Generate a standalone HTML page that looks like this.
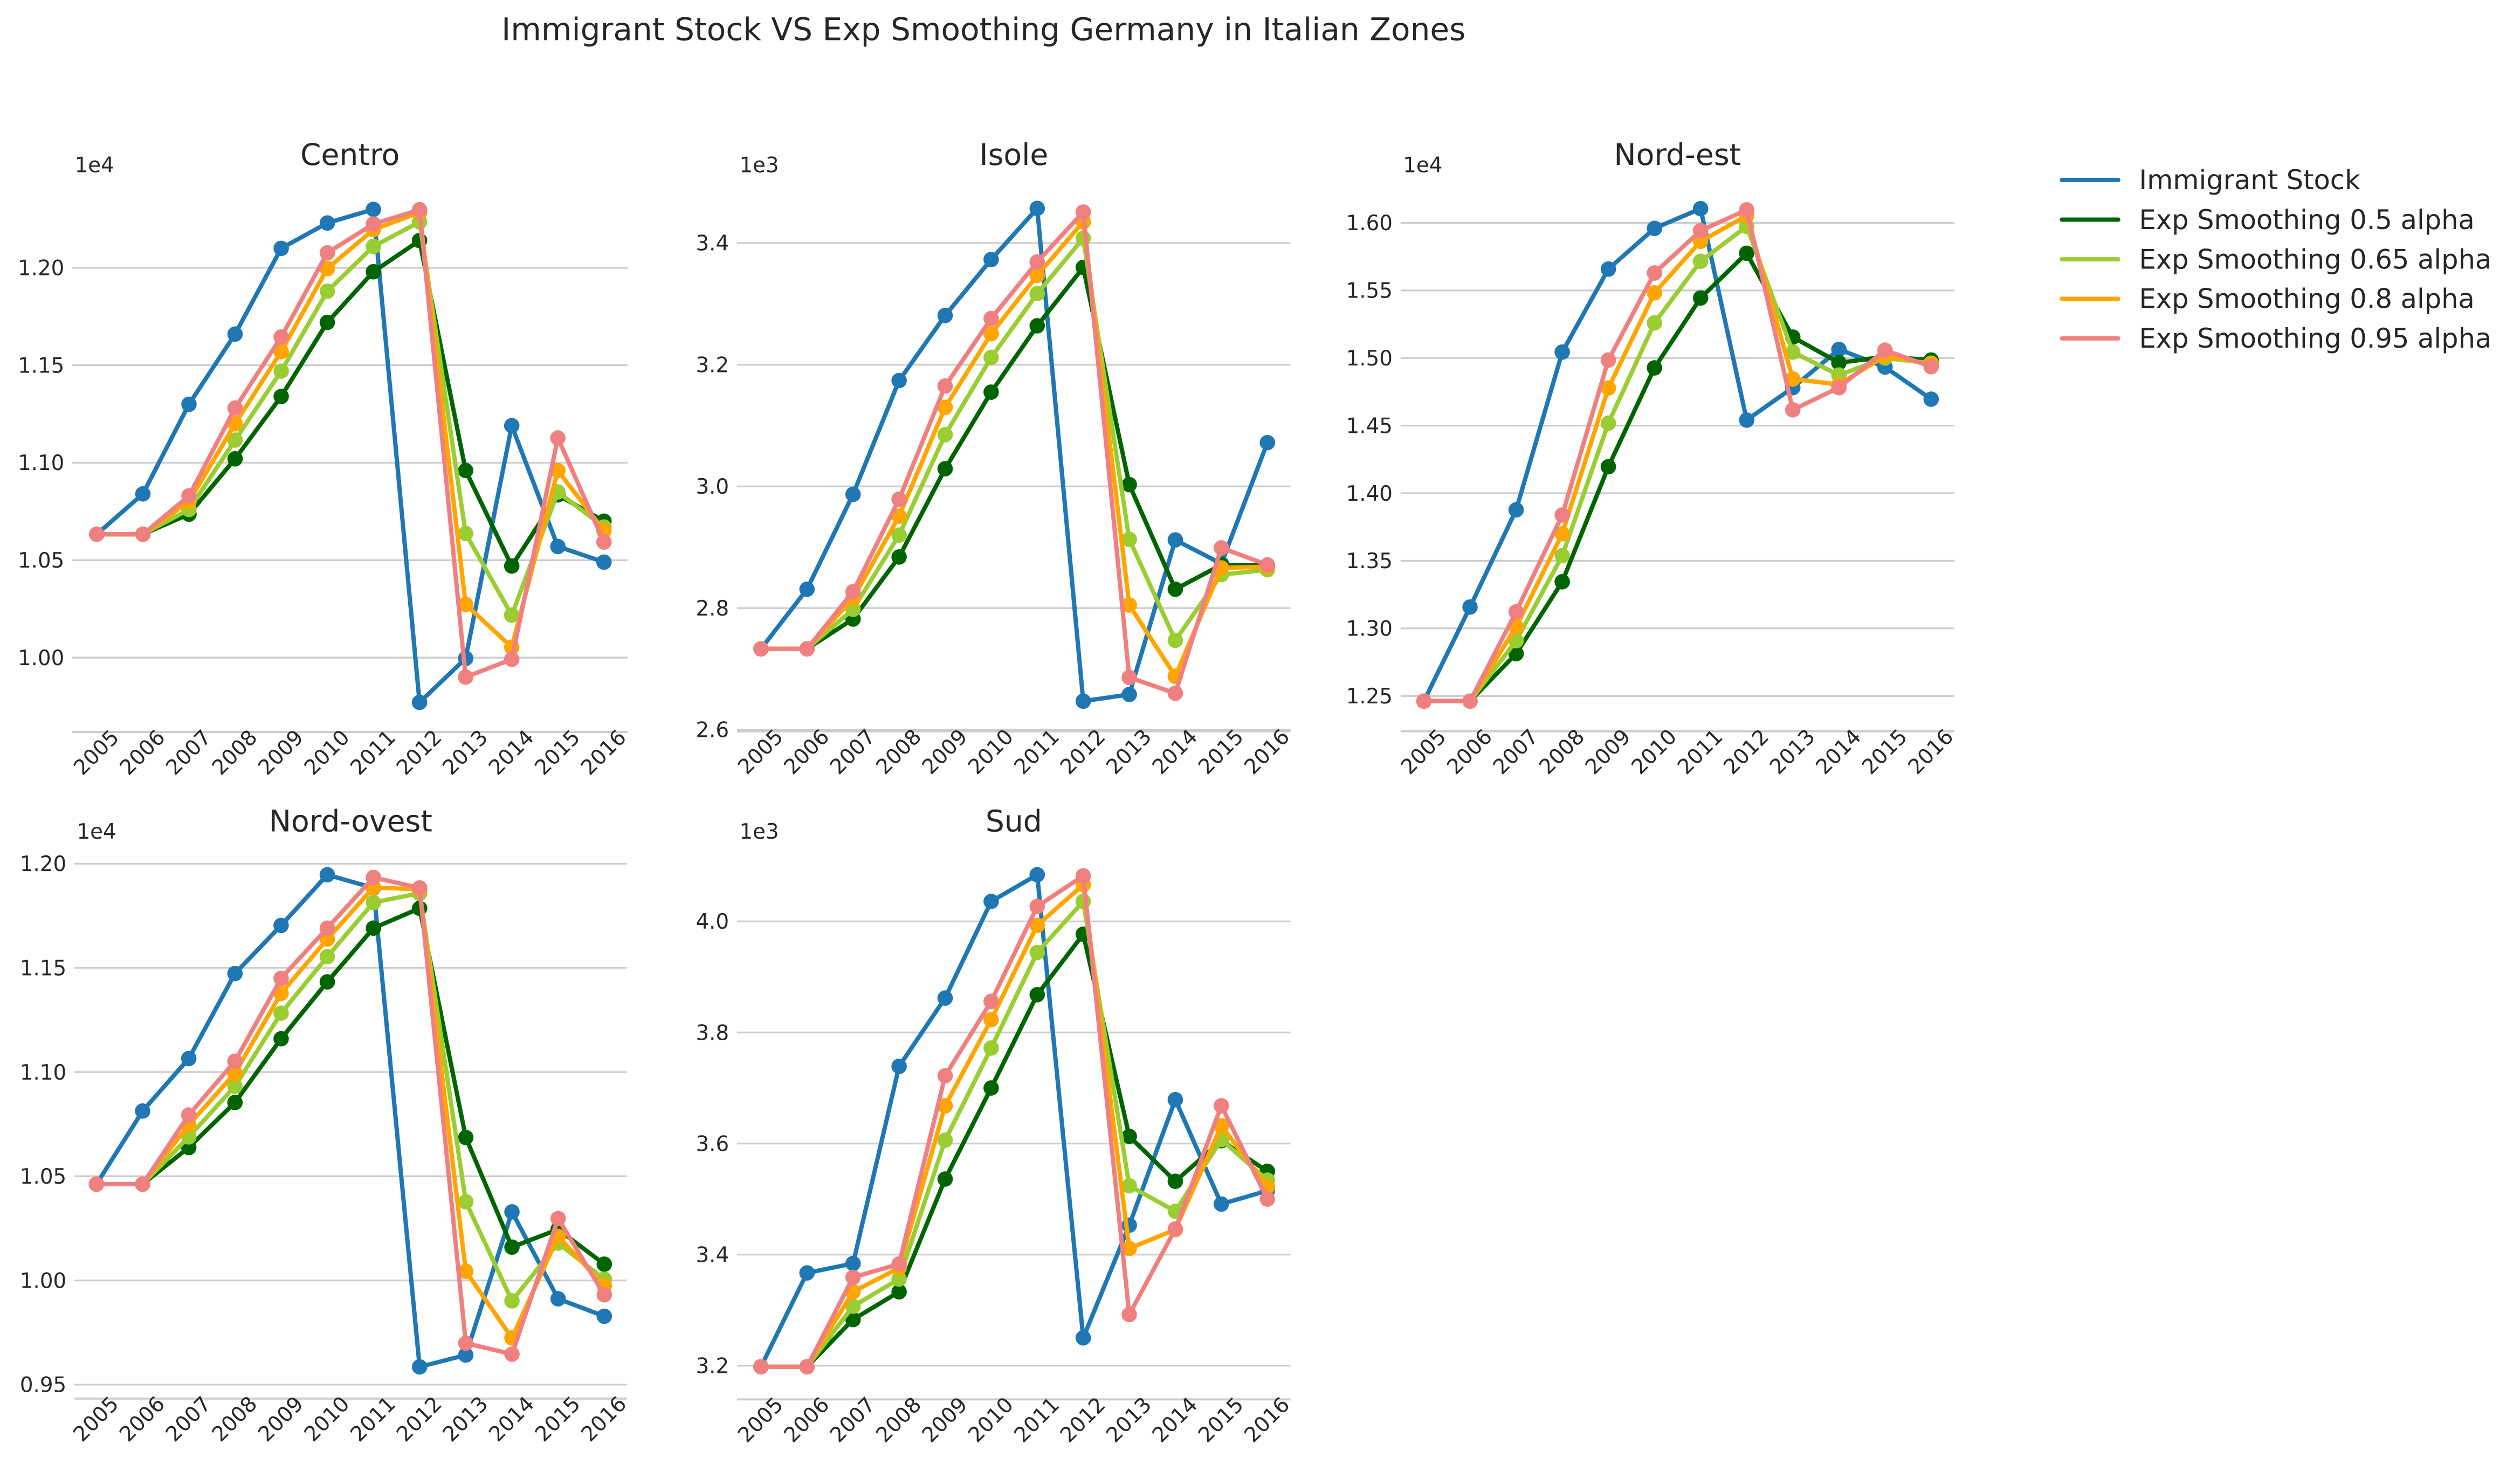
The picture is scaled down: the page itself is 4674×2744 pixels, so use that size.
<!DOCTYPE html>
<html><head><meta charset="utf-8"><style>
html,body{margin:0;padding:0;background:#fff;}
svg{display:block;font-family:"DejaVu Sans","Liberation Sans",sans-serif;}
</style></head><body>
<svg id="chart" xmlns="http://www.w3.org/2000/svg" width="4674" height="2744" viewBox="0 0 1568 920.55">
<rect x="0" y="0" width="1568" height="921" fill="#fff"/>
<text x="612" y="25" text-anchor="middle" font-size="19.5" fill="#262626">Immigrant Stock VS Exp Smoothing Germany in Italian Zones</text>
<g id="legend"></g>
</svg>
<script>
const years = [2005,2006,2007,2008,2009,2010,2011,2012,2013,2014,2015,2016];
const seriesNames = ["Immigrant Stock","Exp Smoothing 0.5 alpha","Exp Smoothing 0.65 alpha","Exp Smoothing 0.8 alpha","Exp Smoothing 0.95 alpha"];
const zoneNames = ["Centro","Isole","Nord-est","Nord-ovest","Sud"];
const zoneExponents = ["1e4","1e3","1e4","1e4","1e3"];

const centroStock = [1.0633,1.084,1.130,1.166,1.210,1.223,1.230,0.977,0.9996,1.119,1.057,1.049];
const centroA050 = [1.0633,1.0633,1.0736,1.102,1.134,1.172,1.198,1.214,1.096,1.047,1.0835,1.070];
const centroA065 = [1.0633,1.0633,1.076,1.1116,1.147,1.188,1.211,1.2236,1.0637,1.0218,1.085,1.067];
const centroA080 = [1.0633,1.0633,1.080,1.120,1.157,1.1996,1.2196,1.2284,1.0273,1.0053,1.096,1.065];
const centroA095 = [1.0633,1.0633,1.083,1.128,1.1645,1.2077,1.2225,1.2298,0.990,0.9991,1.1127,1.0593];

const isoleStock = [2.733,2.831,2.987,3.174,3.281,3.373,3.457,2.647,2.658,2.912,2.873,3.072];
const isoleA050 = [2.733,2.733,2.782,2.884,3.029,3.155,3.264,3.360,3.003,2.831,2.871,2.870];
const isoleA065 = [2.733,2.733,2.798,2.920,3.085,3.212,3.317,3.408,2.913,2.747,2.855,2.863];
const isoleA080 = [2.733,2.733,2.816,2.951,3.130,3.251,3.347,3.435,2.805,2.688,2.866,2.868];
const isoleA095 = [2.733,2.733,2.827,2.979,3.165,3.276,3.369,3.451,2.686,2.660,2.899,2.871];

const nordEstStock = [1.2462,1.3158,1.3877,1.5044,1.5658,1.5959,1.6105,1.4541,1.4781,1.5064,1.4933,1.4696];
const nordEstA050 = [1.2462,1.2462,1.2813,1.3345,1.4196,1.4927,1.5444,1.5775,1.5155,1.4965,1.501,1.4985];
const nordEstA065 = [1.2462,1.2462,1.2909,1.3538,1.4518,1.526,1.5716,1.5974,1.5044,1.4874,1.500,1.4962];
const nordEstA080 = [1.2462,1.2462,1.3012,1.370,1.4778,1.5482,1.5863,1.6053,1.4845,1.4804,1.5015,1.4956];
const nordEstA095 = [1.2462,1.2462,1.3123,1.3839,1.4985,1.5629,1.5942,1.6096,1.4617,1.4781,1.5058,1.4936];

const nordOvestStock = [1.0462,1.0813,1.1065,1.1473,1.1704,1.1947,1.1884,0.9585,0.9642,1.0329,0.9912,0.9828];
const nordOvestA050 = [1.0462,1.0462,1.0638,1.0854,1.116,1.1433,1.1691,1.1786,1.0686,1.016,1.0245,1.0078];
const nordOvestA065 = [1.0462,1.0462,1.0689,1.0932,1.1283,1.1554,1.1814,1.1858,1.0378,0.9902,1.0179,1.0006];
const nordOvestA080 = [1.0462,1.0462,1.0746,1.0995,1.1378,1.1638,1.1886,1.1877,1.0044,0.9724,1.0211,0.9974];
const nordOvestA095 = [1.0462,1.0462,1.0794,1.1052,1.145,1.1691,1.1934,1.1884,0.9699,0.9646,1.0297,0.9931];

const sudStock = [3.198,3.367,3.384,3.739,3.862,4.036,4.084,3.250,3.453,3.679,3.491,3.515];
const sudA050 = [3.198,3.198,3.283,3.333,3.536,3.700,3.868,3.977,3.613,3.532,3.605,3.550];
const sudA065 = [3.198,3.198,3.307,3.356,3.606,3.772,3.944,4.036,3.524,3.478,3.607,3.534];
const sudA080 = [3.198,3.198,3.333,3.376,3.668,3.823,3.993,4.066,3.411,3.445,3.632,3.522];
const sudA095 = [3.198,3.198,3.359,3.383,3.722,3.856,4.027,4.082,3.292,3.446,3.668,3.500];

const centroTicks = [1.00,1.05,1.10,1.15,1.20];
const centroTickLabels = ["1.00","1.05","1.10","1.15","1.20"];
const isoleTicks = [2.6,2.8,3.0,3.2,3.4];
const isoleTickLabels = ["2.6","2.8","3.0","3.2","3.4"];
const nordEstTicks = [1.25,1.30,1.35,1.40,1.45,1.50,1.55,1.60];
const nordEstTickLabels = ["1.25","1.30","1.35","1.40","1.45","1.50","1.55","1.60"];
const nordOvestTicks = [0.95,1.00,1.05,1.10,1.15,1.20];
const nordOvestTickLabels = ["0.95","1.00","1.05","1.10","1.15","1.20"];
const sudTicks = [3.2,3.4,3.6,3.8,4.0];
const sudTickLabels = ["3.2","3.4","3.6","3.8","4.0"];

const NS = "http://www.w3.org/2000/svg";
const svg = document.getElementById('chart');
const colors = ["#1f77b4","#006400","#9acd32","#ffa500","#f08080"];

const layouts = [
  {left:45,right:390.5,x0:60.2,x1:375.8,bottom:455.6,v0:1.00,p0:409.3,v1:1.20,p1:166.7,titleY:102.7},
  {left:458.6,right:803,x0:473.5,x1:788.6,bottom:455.2,v0:2.6,p0:454.2,v1:3.4,p1:151.3,titleY:102.7},
  {left:871.5,right:1216,x0:886,x1:1201.6,bottom:455.2,v0:1.25,p0:433.2,v1:1.60,p1:138.7,titleY:102.7},
  {left:46.3,right:390,x0:60,x1:376,bottom:870.5,v0:0.95,p0:861.8,v1:1.20,p1:537.6,titleY:517.5},
  {left:458.6,right:803,x0:473.5,x1:788.6,bottom:871,v0:3.2,p0:850,v1:4.0,p1:573.5,titleY:517.5}
];
const zoneData = [
  [centroStock,centroA050,centroA065,centroA080,centroA095],
  [isoleStock,isoleA050,isoleA065,isoleA080,isoleA095],
  [nordEstStock,nordEstA050,nordEstA065,nordEstA080,nordEstA095],
  [nordOvestStock,nordOvestA050,nordOvestA065,nordOvestA080,nordOvestA095],
  [sudStock,sudA050,sudA065,sudA080,sudA095]
];
const zoneTicks = [centroTicks,isoleTicks,nordEstTicks,nordOvestTicks,sudTicks];
const zoneTickLabels = [centroTickLabels,isoleTickLabels,nordEstTickLabels,nordOvestTickLabels,sudTickLabels];

function mk(tag, attrs, parent){
  const e = document.createElementNS(NS, tag);
  for (const k in attrs) e.setAttribute(k, attrs[k]);
  parent.appendChild(e);
  return e;
}

zoneNames.forEach((zn, zi) => {
  const L = layouts[zi];
  const xScale = i => L.x0 + (L.x1 - L.x0) * (i / (years.length - 1));
  const yScale = v => L.p0 + (v - L.v0) * (L.p1 - L.p0) / (L.v1 - L.v0);
  const g = mk('g', {}, svg);
  
  

  zoneTicks[zi].forEach((t, ti) => {
    const y = yScale(t);
    const gl = mk('line', {x1:L.left, x2:L.right, y1:y, y2:y, stroke:'#cccccc', 'stroke-width':1.1}, g);
    
    
    const tl = mk('text', {x:L.left - 5, y:y + 4.6, 'text-anchor':'end', 'font-size':13, fill:'#262626'}, g);
    
    
    tl.textContent = zoneTickLabels[zi][ti];
  });
  const ax = mk('line', {x1:L.left, x2:L.right, y1:L.bottom, y2:L.bottom, stroke:'#cccccc', 'stroke-width':1.3}, g);
  
  

  years.forEach((yr, i) => {
    const x = xScale(i);
    const ty = L.bottom + 17;
    const tl = mk('text', {x:x, y:ty, 'text-anchor':'middle', 'font-size':13, fill:'#262626', transform:'rotate(-45 ' + x + ' ' + (ty - 4) + ')'}, g);
    
    
    tl.textContent = String(yr);
  });

  const tt = mk('text', {x:(L.left + L.right) / 2, y:L.titleY, 'text-anchor':'middle', 'font-size':18.5, fill:'#262626'}, g);
  
  
  tt.textContent = zn;
  const ex = mk('text', {x:L.left + 1.5, y:L.titleY + 4.5, 'font-size':13, fill:'#262626'}, g);
  
  
  ex.textContent = zoneExponents[zi];

  zoneData[zi].forEach((vals, si) => {
    const sg = mk('g', {}, g);
    
    
    const pts = vals.map((v, i) => xScale(i).toFixed(2) + ',' + yScale(v).toFixed(2)).join(' ');
    const pl = mk('polyline', {points:pts, fill:'none', stroke:colors[si], 'stroke-width':2.7, 'stroke-linejoin':'round', 'stroke-linecap':'round'}, sg);
    
    
    vals.forEach((v, i) => {
      const c = mk('circle', {cx:xScale(i), cy:yScale(v), r:4.8, fill:colors[si]}, sg);
      
      
    });
  });
});

const lg = document.getElementById('legend');
const legendYs = [112, 136.7, 161.4, 186, 210.6];
seriesNames.forEach((n, i) => {
  const eg = mk('g', {}, lg);
  
  
  const ln = mk('line', {x1:1283, x2:1318, y1:legendYs[i], y2:legendYs[i], stroke:colors[i], 'stroke-width':2.7, 'stroke-linecap':'round'}, eg);
  
  
  const tx = mk('text', {x:1331, y:legendYs[i] + 5.8, 'font-size':16.6, fill:'#262626'}, eg);
  
  
  tx.textContent = n;
});
</script>
</body></html>
